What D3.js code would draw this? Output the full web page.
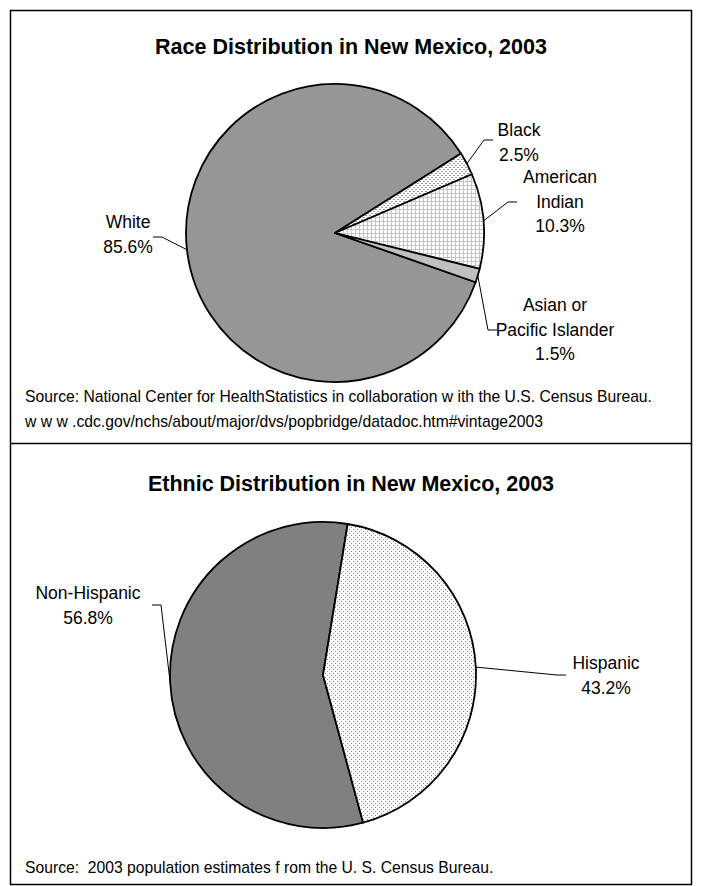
<!DOCTYPE html>
<html><head><meta charset="utf-8">
<script src="https://cdn.jsdelivr.net/npm/d3@7/dist/d3.min.js"></script>
<style>
html,body{margin:0;padding:0;background:#fff;}
svg{display:block;}
text{font-family:"Liberation Sans",Arial,sans-serif;fill:#000;white-space:pre;}
</style></head>
<body>
<script>
// ---- data ----
const raceCategories = ["White", "Black", "American Indian", "Asian or Pacific Islander"];
const raceValues = [85.6, 2.5, 10.3, 1.5];
const raceLabelLines = [["White", "85.6%"], ["Black", "2.5%"], ["American", "Indian", "10.3%"], ["Asian or", "Pacific Islander", "1.5%"]];
const ethnicCategories = ["Non-Hispanic", "Hispanic"];
const ethnicValues = [56.8, 43.2];
const ethnicLabelLines = [["Non-Hispanic", "56.8%"], ["Hispanic", "43.2%"]];
const titles = ["Race Distribution in New Mexico, 2003", "Ethnic Distribution in New Mexico, 2003"];
const raceSource = ["Source: National Center for HealthStatistics in collaboration w ith the U.S. Census Bureau.",
                    "w w w .cdc.gov/nchs/about/major/dvs/popbridge/datadoc.htm#vintage2003"];
const ethnicSource = ["Source:  2003 population estimates f rom the U. S. Census Bureau."];

// ---- layout / style ----
const W = 702, H = 886;
const deg = Math.PI / 180;
const svg = d3.select("body").append("svg").attr("width", W).attr("height", H);
const defs = svg.append("defs");

function pat(id, size, bg, draw) {
  const p = defs.append("pattern").attr("id", id).attr("patternUnits", "userSpaceOnUse")
    .attr("width", size).attr("height", size);
  p.append("rect").attr("width", size).attr("height", size).attr("fill", bg);
  draw(p);
}
pat("dashH", 4, "#fff", p => {
  p.append("rect").attr("x", 0).attr("y", 0).attr("width", 2).attr("height", 1).attr("fill", "#9a9a9a");
  p.append("rect").attr("x", 2).attr("y", 2).attr("width", 2).attr("height", 1).attr("fill", "#9a9a9a");
});
pat("grid", 4, "#fff", p => {
  p.append("rect").attr("x", 0).attr("y", 0).attr("width", 4).attr("height", 1).attr("fill", "#c4c4c4");
  p.append("rect").attr("x", 0).attr("y", 0).attr("width", 1).attr("height", 4).attr("fill", "#c4c4c4");
});
pat("stipple", 4, "#fff", p => {
  p.append("rect").attr("x", 0).attr("y", 0).attr("width", 1).attr("height", 1).attr("fill", "#8a8a8a");
  p.append("rect").attr("x", 2).attr("y", 2).attr("width", 1).attr("height", 1).attr("fill", "#8a8a8a");
});

// frame
svg.append("rect").attr("x", 10.5).attr("y", 10.5).attr("width", 681).attr("height", 874)
  .attr("fill", "none").attr("stroke", "#000").attr("stroke-width", 1.5);
svg.append("line").attr("x1", 10).attr("x2", 692).attr("y1", 443.5).attr("y2", 443.5)
  .attr("stroke", "#000").attr("stroke-width", 1.5);

function drawPie(cfg) {
  const g = svg.append("g");
  g.append("text").attr("x", 351).attr("y", cfg.titleY).attr("text-anchor", "middle")
    .attr("font-size", 21.5).attr("font-weight", "bold").text(cfg.title);
  const pie = d3.pie().sort(null).startAngle(cfg.start).endAngle(cfg.start + 2 * Math.PI);
  const arcs = pie(cfg.values);
  const arc = d3.arc().innerRadius(0).outerRadius(cfg.r);
  const pg = g.append("g").attr("transform", `translate(${cfg.cx},${cfg.cy})`);
  pg.selectAll("path").data(arcs).join("path")
    .attr("d", arc).attr("fill", (d, i) => cfg.fills[i])
    .attr("stroke", "#000").attr("stroke-width", 1.8).attr("stroke-linejoin", "round");
  // labels + leaders
  arcs.forEach((a, i) => {
    const L = cfg.labels[i];
    const lines = cfg.lines[i];
    const lh = 24.5;
    const t = g.append("text").attr("text-anchor", "middle").attr("font-size", 17.5);
    lines.forEach((s, k) => {
      t.append("tspan").attr("x", L.x).attr("y", L.y + k * lh + 6).text(s);
    });
    const mid = (a.startAngle + a.endAngle) / 2;
    const px = cfg.cx + cfg.r * Math.sin(mid), py = cfg.cy - cfg.r * Math.cos(mid);
    g.append("path").attr("d", `M${L.ax},${L.ay}L${L.bx},${L.ay}L${px},${py}`)
      .attr("fill", "none").attr("stroke", "#000").attr("stroke-width", 1);
  });
  cfg.source.forEach((s, k) => {
    g.append("text").attr("x", 25).attr("y", cfg.sourceY + k * 24.5).attr("font-size", 15.7).text(s);
  });
}

drawPie({
  title: titles[0], titleY: 54, cx: 335, cy: 233, r: 149,
  values: raceValues, start: 109.3 * deg,
  fills: ["#969696", "url(#dashH)", "url(#grid)", "#c0c0c0"],
  lines: raceLabelLines,
  labels: [
    {x: 128, y: 222, ax: 153, ay: 237, bx: 162},
    {x: 519, y: 130, ax: 493, ay: 140, bx: 484},
    {x: 560, y: 177, ax: 517, ay: 202, bx: 508},
    {x: 555, y: 305, ax: 497, ay: 330, bx: 488}
  ],
  source: raceSource, sourceY: 402
});

drawPie({
  title: titles[1], titleY: 491, cx: 323, cy: 675, r: 153,
  values: ethnicValues, start: 164.8 * deg,
  fills: ["#808080", "url(#stipple)"],
  lines: ethnicLabelLines,
  labels: [
    {x: 88, y: 593, ax: 152, ay: 605, bx: 161},
    {x: 606, y: 663, ax: 566, ay: 675, bx: 557}
  ],
  source: ethnicSource, sourceY: 873
});
</script>
</body></html>
